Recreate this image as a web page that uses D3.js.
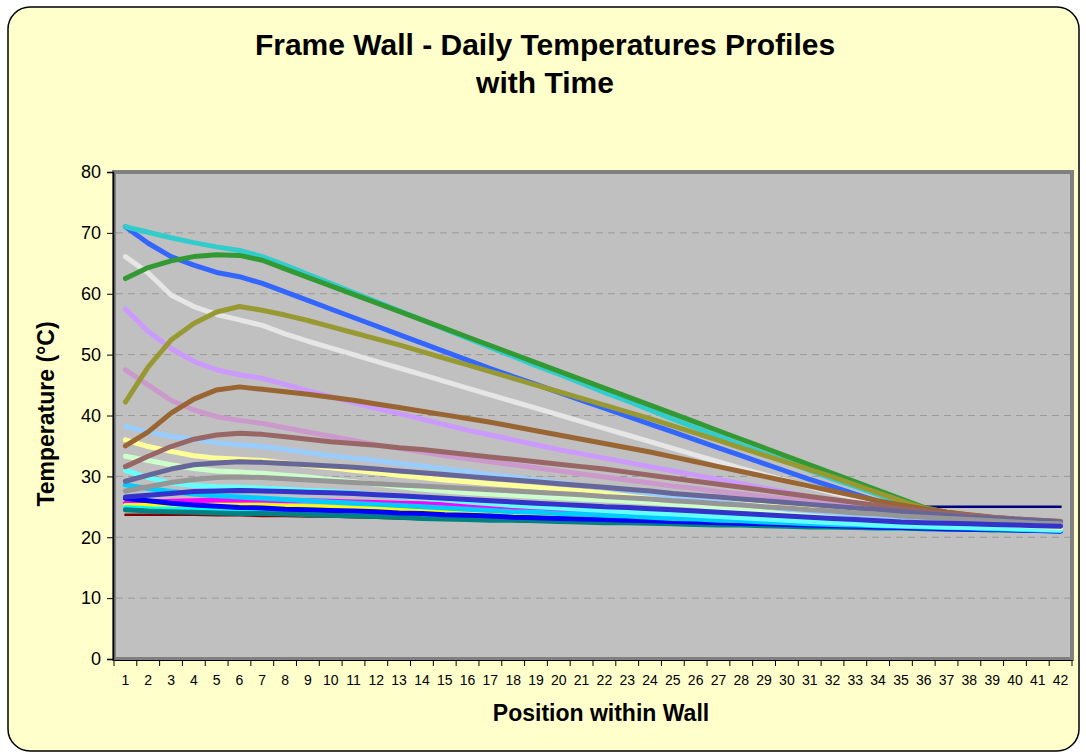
<!DOCTYPE html>
<html>
<head>
<meta charset="utf-8">
<script src="https://cdn.jsdelivr.net/npm/d3@7"></script>
<style>
  body { margin: 0; background: #ffffff; }
  svg { display: block; }
  text { font-family: "Liberation Sans", Arial, sans-serif; fill: #000; }
</style>
</head>
<body>
<div id="chart"></div>
<script>
// positions through the wall (category axis)
var positions = d3.range(1, 43);

var yTicks = [0, 10, 20, 30, 40, 50, 60, 70, 80];

// one temperature profile per time of day, values in deg C, position 1..42
var navy = [null,null,null,null,null,null,null,null,null,null,null,null,null,null,null,null,null,null,null,null,
    null,null,null,null,null,null,null,null,null,null,null,null,null,null,null,25.0,25.0,25.0,25.0,25.0,25.0,25.0];
var darkRed = [23.7,23.7,23.7,23.7,23.6,23.6,23.5,23.5,23.4,23.4,23.3,23.2,23.1,23.0,23.0,22.9,22.8,22.7,22.6,22.6,
    22.5,22.4,22.3,22.3,22.2,22.1,22.1,22.0,21.9,21.9,21.8,21.7,21.7,21.6,21.6,21.5,21.5,21.4,21.4,21.3,21.3,21.2];
var magenta = [25.6,25.8,25.9,26.0,26.1,26.1,26.1,26.0,26.0,25.9,25.8,25.7,25.6,25.5,25.4,25.2,25.0,24.8,24.6,24.4,
    24.2,24.0,23.8,23.6,23.4,23.2,23.0,22.8,22.6,22.5,22.3,22.2,22.1,22.0,21.9,21.8,21.7,21.6,21.5,21.4,21.3,21.2];
var yellow = [25.2,25.2,25.2,25.2,25.2,25.2,25.2,25.1,25.0,24.9,24.8,24.7,24.5,24.4,24.3,24.1,24.0,23.8,23.7,23.5,
    23.4,23.2,23.1,22.9,22.8,22.6,22.5,22.4,22.2,22.1,22.0,21.9,21.8,21.7,21.6,21.5,21.4,21.4,21.3,21.2,21.2,21.1];
var cyan = [24.9,24.7,24.6,24.5,24.4,24.3,24.2,24.1,24.0,23.9,23.8,23.7,23.6,23.5,23.4,23.3,23.2,23.1,23.0,22.9,
    22.8,22.7,22.6,22.5,22.4,22.3,22.2,22.1,22.0,21.9,21.8,21.7,21.6,21.5,21.5,21.4,21.4,21.3,21.3,21.2,21.2,21.1];
var teal = [24.5,24.3,24.2,24.1,24.0,23.9,23.9,23.8,23.7,23.6,23.5,23.4,23.3,23.1,23.0,22.9,22.8,22.8,22.7,22.6,
    22.5,22.4,22.4,22.3,22.2,22.1,22.0,22.0,21.9,21.8,21.7,21.7,21.6,21.5,21.5,21.4,21.3,21.3,21.2,21.2,21.1,21.1];
var blue = [26.4,26.0,25.6,25.3,25.1,24.9,24.8,24.6,24.5,24.4,24.3,24.2,24.0,23.9,23.7,23.6,23.5,23.3,23.2,23.1,
    23.0,22.9,22.8,22.7,22.6,22.5,22.4,22.3,22.2,22.1,22.0,21.9,21.8,21.7,21.6,21.5,21.4,21.3,21.3,21.2,21.1,21.0];
var sky = [28.6,28.0,27.5,27.1,26.8,26.6,26.4,26.2,26.0,25.8,25.6,25.4,25.2,25.0,24.8,24.6,24.4,24.2,24.1,23.9,
    23.8,23.6,23.5,23.3,23.1,23.0,22.8,22.7,22.5,22.4,22.2,22.1,22.0,21.9,21.8,21.7,21.6,21.5,21.4,21.3,21.2,21.1];
var aqua = [31.0,29.8,28.9,28.5,28.3,28.2,28.1,27.9,27.7,27.5,27.3,27.0,26.7,26.4,26.1,25.8,25.5,25.2,25.0,24.8,
    24.6,24.4,24.2,24.0,23.8,23.6,23.4,23.2,23.0,22.8,22.6,22.4,22.2,22.0,21.9,21.8,21.7,21.6,21.5,21.4,21.3,21.2];
var paleGreen = [33.3,32.6,31.9,31.3,30.9,30.7,30.5,30.2,29.9,29.5,29.1,28.7,28.3,27.9,27.6,27.3,27.1,26.9,26.7,26.5,
    26.3,26.1,25.9,25.7,25.4,25.2,24.9,24.7,24.4,24.2,23.9,23.7,23.4,23.2,23.0,22.8,22.6,22.4,22.2,22.0,21.8,21.6];
var lightYellow = [36.0,34.9,34.1,33.4,33.0,32.8,32.6,32.2,31.8,31.4,31.0,30.6,30.2,29.8,29.4,29.1,28.8,28.5,28.2,27.9,
    27.6,27.3,27.0,26.7,26.4,26.1,25.8,25.5,25.2,24.9,24.6,24.3,24.0,23.7,23.4,23.1,22.8,22.5,22.3,22.1,21.9,21.7];
var lightBlue = [38.2,37.3,36.6,36.1,35.5,35.2,34.9,34.4,33.9,33.4,33.0,32.6,32.1,31.7,31.2,30.8,30.3,29.9,29.4,29.0,
    28.5,28.1,27.6,27.2,26.7,26.2,25.8,25.4,25.0,24.6,24.3,24.0,23.7,23.4,23.2,23.0,22.8,22.6,22.4,22.2,22.0,21.9];
var pink = [47.5,45.0,42.5,40.9,39.8,39.2,38.7,38.0,37.3,36.6,35.9,35.2,34.6,34.0,33.4,32.9,32.4,31.9,31.4,30.9,
    30.4,29.9,29.4,28.9,28.4,28.0,27.5,27.1,26.7,26.3,25.9,25.5,25.1,24.7,24.3,23.9,23.5,23.2,22.9,22.6,22.4,22.2];
var lavender = [57.5,53.8,51.0,48.9,47.5,46.7,46.1,45.1,44.1,43.1,42.1,41.2,40.3,39.4,38.5,37.6,36.8,36.0,35.2,34.4,
    33.7,33.0,32.3,31.6,30.9,30.2,29.5,28.8,28.1,27.4,26.7,26.1,25.5,24.9,24.4,23.9,23.5,23.1,22.8,22.5,22.2,22.0];
var white = [66.1,63.4,59.8,57.9,56.6,55.7,54.8,53.4,52.2,51.1,50.0,48.9,47.8,46.7,45.6,44.5,43.4,42.3,41.2,40.1,
    39.0,37.9,36.8,35.7,34.6,33.5,32.4,31.3,30.3,29.3,28.3,27.3,26.4,25.5,24.7,24.1,23.6,23.2,22.9,22.6,22.3,22.0];
var royal = [71.0,68.3,66.1,64.7,63.5,62.8,61.7,60.3,58.9,57.5,56.1,54.7,53.3,51.9,50.5,49.1,47.7,46.4,45.1,43.8,
    42.5,41.2,39.9,38.6,37.3,36.0,34.7,33.4,32.1,30.8,29.5,28.3,27.1,25.9,24.9,24.2,23.7,23.3,23.0,22.7,22.4,22.2];
var turquoise = [71.0,70.1,69.2,68.4,67.7,67.1,66.1,64.7,63.2,61.7,60.2,58.7,57.2,55.7,54.2,52.7,51.2,49.7,48.2,46.8,
    45.3,43.8,42.4,40.9,39.4,38.0,36.6,35.2,33.8,32.4,31.0,29.6,28.3,27.0,25.8,24.6,23.9,23.4,23.0,22.7,22.4,22.2];
var green = [62.5,64.3,65.4,66.1,66.4,66.3,65.5,64.1,62.7,61.3,59.9,58.5,57.1,55.7,54.3,52.9,51.5,50.1,48.7,47.3,
    45.9,44.5,43.1,41.7,40.3,38.9,37.5,36.1,34.7,33.3,31.9,30.5,29.1,27.7,26.3,24.9,24.1,23.6,23.2,22.9,22.6,22.4];
var olive = [42.2,48.0,52.4,55.1,57.0,57.9,57.3,56.5,55.6,54.6,53.6,52.6,51.6,50.5,49.4,48.3,47.2,46.1,45.0,43.9,
    42.8,41.7,40.6,39.5,38.3,37.1,35.9,34.7,33.5,32.3,31.1,29.9,28.6,27.3,26.0,24.8,24.1,23.6,23.2,22.9,22.6,22.4];
var brown = [35.0,37.3,40.4,42.7,44.2,44.7,44.3,43.9,43.5,43.0,42.5,41.9,41.3,40.7,40.1,39.5,38.9,38.2,37.5,36.8,
    36.1,35.4,34.7,34.0,33.2,32.4,31.6,30.8,30.0,29.2,28.4,27.6,26.8,26.0,25.3,24.7,24.1,23.7,23.3,23.0,22.8,22.6];
var mauve = [31.6,33.3,34.9,36.1,36.8,37.1,36.9,36.5,36.1,35.7,35.4,35.1,34.7,34.4,34.0,33.6,33.2,32.8,32.4,32.0,
    31.6,31.2,30.7,30.2,29.7,29.2,28.7,28.2,27.7,27.2,26.7,26.2,25.7,25.2,24.7,24.3,23.9,23.6,23.3,23.0,22.8,22.6];
var slate = [29.2,30.2,31.2,31.9,32.2,32.4,32.3,32.1,31.9,31.7,31.5,31.2,30.9,30.6,30.3,30.0,29.7,29.4,29.1,28.8,
    28.5,28.2,27.9,27.6,27.2,26.9,26.6,26.3,26.0,25.7,25.4,25.1,24.8,24.5,24.2,23.9,23.6,23.3,23.1,22.9,22.7,22.5];
var gray = [27.6,28.3,29.0,29.5,29.8,29.9,29.8,29.6,29.4,29.2,29.0,28.8,28.6,28.4,28.2,28.0,27.8,27.6,27.4,27.2,
    27.0,26.7,26.5,26.3,26.0,25.8,25.5,25.3,25.0,24.8,24.5,24.3,24.0,23.8,23.5,23.3,23.1,22.9,22.7,22.5,22.3,22.2];
var indigo = [26.6,26.9,27.2,27.5,27.6,27.7,27.6,27.5,27.4,27.3,27.2,27.0,26.8,26.6,26.4,26.2,26.0,25.8,25.6,25.4,
    25.2,25.0,24.9,24.7,24.5,24.3,24.1,23.9,23.7,23.5,23.3,23.1,22.9,22.7,22.5,22.4,22.3,22.2,22.1,22.0,21.9,21.8];

// drawing order = series order, last one on top
var seriesValues = [navy, darkRed, magenta, yellow, cyan, teal, blue, sky, aqua, paleGreen, lightYellow,
    lightBlue, pink, lavender, white, royal, turquoise, green, olive, brown, mauve, slate, gray, indigo];
var seriesColors = ["#000080", "#800000", "#FF00FF", "#FFFF00", "#00FFFF", "#008080", "#0000FF", "#00CCFF",
    "#66FFFF", "#CCFFCC", "#FFFF99", "#99CCFF", "#CC99CC", "#CC99FF", "#E6E6E6", "#3366FF", "#33CCCC",
    "#339933", "#999933", "#996633", "#996666", "#666699", "#969696", "#3333CC"];

var width = 1086, height = 752;
var plotLeft = 114, plotRight = 1072, plotTop = 172, plotBottom = 659;

var svg = d3.select("#chart").append("svg")
    .attr("width", width)
    .attr("height", height);

// chart area
svg.append("rect")
    .attr("x", 8).attr("y", 7)
    .attr("width", 1071).attr("height", 744)
    .attr("rx", 22).attr("ry", 22)
    .attr("fill", "#FFFFCC")
    .attr("stroke", "#000")
    .attr("stroke-width", 1.5);

var x = d3.scaleBand()
    .domain(positions)
    .range([plotLeft, plotRight]);

var y = d3.scaleLinear()
    .domain([0, 80])
    .range([plotBottom, plotTop]);

// plot area
svg.append("rect")
    .attr("x", plotLeft).attr("y", plotTop)
    .attr("width", plotRight - plotLeft).attr("height", plotBottom - plotTop)
    .attr("fill", "#C0C0C0")
    .attr("stroke", "#808080")
    .attr("stroke-width", 4);

// gridlines
svg.append("g")
    .selectAll("line")
    .data(yTicks.filter(function(d) { return d > 0 && d < 80; }))
    .enter().append("line")
    .attr("x1", plotLeft + 2).attr("x2", plotRight - 2)
    .attr("y1", function(d) { return y(d); })
    .attr("y2", function(d) { return y(d); })
    .attr("stroke", "#999999")
    .attr("stroke-width", 1)
    .attr("stroke-dasharray", "7,5");

// lines
var line = d3.line()
    .defined(function(d) { return d != null; })
    .x(function(d, i) { return x(positions[i]) + x.bandwidth() / 2; })
    .y(function(d) { return y(d); });

svg.append("g")
    .selectAll("path")
    .data(seriesValues)
    .enter().append("path")
    .attr("d", line)
    .attr("fill", "none")
    .attr("stroke", function(d, i) { return seriesColors[i]; })
    .attr("stroke-width", function(d, i) { return i < 2 ? 2.5 : 5; })
    .attr("stroke-linejoin", "round")
    .attr("stroke-linecap", "round");

// y axis
var yAxis = svg.append("g")
    .attr("transform", "translate(" + (plotLeft - 1) + ",0)")
    .call(d3.axisLeft(y).tickValues(yTicks).tickSize(6).tickPadding(6));
yAxis.select(".domain").attr("stroke", "#000").attr("stroke-width", 1.5);
yAxis.selectAll(".tick line").attr("stroke", "#000");
yAxis.selectAll("text")
    .style("font-family", "'Liberation Sans', Arial, sans-serif")
    .style("font-size", "18px")
    .attr("fill", "#000");

// x axis
var xAxis = svg.append("g")
    .attr("transform", "translate(0," + (plotBottom + 1) + ")")
    .call(d3.axisBottom(x).tickSize(0).tickPadding(15));
xAxis.select(".domain").attr("stroke", "#000").attr("stroke-width", 1);
xAxis.selectAll("text")
    .style("font-family", "'Liberation Sans', Arial, sans-serif")
    .style("font-size", "14px")
    .attr("fill", "#000");

// x ticks sit between categories
svg.append("g")
    .selectAll("line")
    .data(positions.concat([43]))
    .enter().append("line")
    .attr("x1", function(d) { return d < 43 ? x(d) : plotRight; })
    .attr("x2", function(d) { return d < 43 ? x(d) : plotRight; })
    .attr("y1", plotBottom + 1)
    .attr("y2", plotBottom + 7)
    .attr("stroke", "#000");

// titles
var title = svg.append("text")
    .attr("text-anchor", "middle")
    .style("font-size", "30px")
    .style("font-weight", "bold");
title.append("tspan").attr("x", 545).attr("y", 55).text("Frame Wall - Daily Temperatures Profiles");
title.append("tspan").attr("x", 545).attr("y", 93).text("with Time");

svg.append("text")
    .attr("x", 601).attr("y", 721)
    .attr("text-anchor", "middle")
    .style("font-size", "23px")
    .style("font-weight", "bold")
    .text("Position within Wall");

svg.append("text")
    .attr("transform", "translate(54,414) rotate(-90)")
    .attr("text-anchor", "middle")
    .style("font-size", "23px")
    .style("font-weight", "bold")
    .text("Temperature (\u00B0C)");
</script>
</body>
</html>
